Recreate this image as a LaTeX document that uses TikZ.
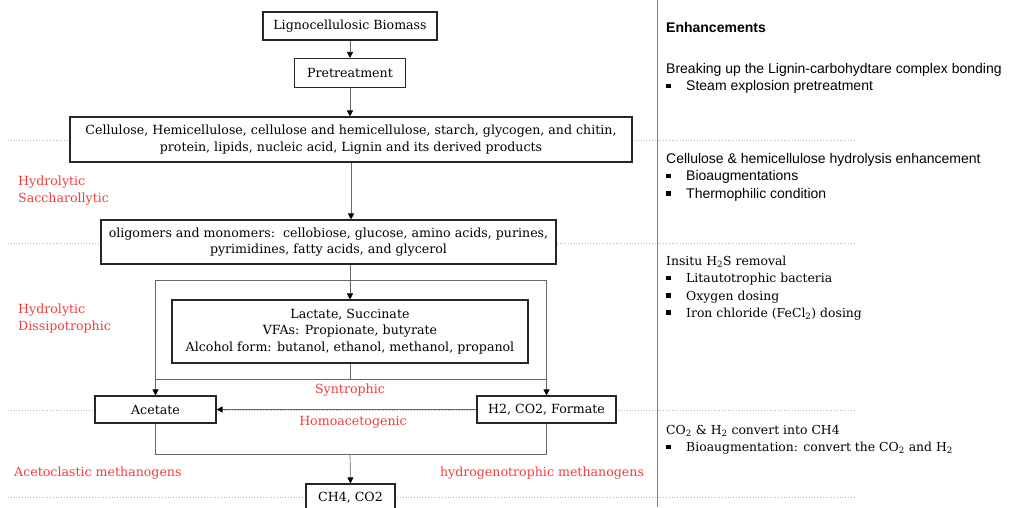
\documentclass[tikz,border=0pt]{standalone}
\usepackage{fontspec}
\setmainfont{DejaVu Serif}
\newfontfamily\enhsans{Liberation Sans}
\usetikzlibrary{arrows.meta,calc}
\definecolor{stageRed}{HTML}{F23C3C}
\definecolor{sepGray}{HTML}{B4B4B4}
\newcommand{\sqbullet}{\makebox[20pt][l]{\rule[2.5pt]{4.5pt}{4.5pt}}}

\begin{document}
\begin{tikzpicture}[x=1pt, y=-1pt, font=\fontsize{12.6}{16.5}\selectfont, >={Triangle[length=6pt,width=6pt,color=black]},
    stage/.style={draw=black!85, line width=1.1pt, fill=white, align=center, inner sep=2pt},
    wire/.style={draw=black!60, line width=0.7pt},
    redlbl/.style={text=stageRed, align=left, inner sep=0pt},
    enhsans/.style={anchor=north west, align=left, inner sep=0pt, font=\enhsans\fontsize{14}{17.5}\selectfont},
    enhserif/.style={anchor=north west, align=left, inner sep=0pt, font=\fontsize{12.4}{17.2}\selectfont}]
  \useasboundingbox (0,0) rectangle (1012,507);
  \foreach \y in {140,243,410,497} { \draw[sepGray, dotted, line width=0.8pt] (8,\y) -- (855,\y); }
  \draw[gray, line width=0.9pt] (657,0) -- (657,507);

  \node[stage, minimum width=174, minimum height=28] (bio) at (350,26) {Lignocellulosic Biomass};
  \node[stage, minimum width=111, minimum height=29] (pre) at (350,73) {Pretreatment};
  \node[stage, minimum width=562, minimum height=45] (cell) at (351,139.5) {Cellulose, Hemicellulose, cellulose and hemicellulose, starch, glycogen, and chitin,\\ protein, lipids, nucleic acid, Lignin and its derived products};
  \node[stage, minimum width=455, minimum height=44] (olig) at (328.5,242) {oligomers and monomers:\ \ cellobiose, glucose, amino acids, purines,\\ pyrimidines, fatty acids, and glycerol};
  \node[stage, minimum width=356, minimum height=63] (lact) at (350,331.5) {Lactate, Succinate\\ VFAs: Propionate, butyrate\\ Alcohol form: butanol, ethanol, methanol, propanol};
  \node[stage, minimum width=121, minimum height=27] (acet) at (155.5,409.5) {Acetate};
  \node[stage, minimum width=139, minimum height=27] (h2) at (546.5,409.5) {H2, CO2, Formate};
  \node[stage, minimum width=89, minimum height=28] (ch4) at (350.5,498) {CH4, CO2};
  \coordinate (frametop) at (350,280);
  \coordinate (junc) at (350,379);
  \coordinate (merge) at (350,454);

  \draw[wire, ->] (bio.south) -- (pre.north);
  \draw[wire, ->] (pre.south) -- (pre.south |- cell.north);
  \draw[wire, ->] (cell.south) -- (cell.south |- olig.north);
  \draw[wire, ->] (olig.south -| lact.north) -- (lact.north);
  \draw[wire, <->] (acet.north) -- (acet.north |- frametop) -- (h2.north |- frametop) -- (h2.north);
  \draw[wire] (lact.south) -- (junc);
  \draw[wire] (acet.north |- junc) -- (h2.north |- junc);
  \draw[wire] (acet.south) -- (acet.south |- merge) -- (h2.south |- merge) -- (h2.south);
  \draw[wire, ->] (merge) -- (ch4.north);
  \draw[wire, ->] (h2.west) -- (acet.east);

  \node[redlbl, anchor=north west] (hsac) at (18,176) {Hydrolytic\\Saccharollytic};
  \node[redlbl, anchor=north west] (hdis) at (18,304) {Hydrolytic\\Dissipotrophic};
  \node[redlbl] (syn) at (350,390) {Syntrophic};
  \node[redlbl] (homo) at (353,422) {Homoacetogenic};
  \node[redlbl, anchor=west] (aceto) at (14,473) {Acetoclastic methanogens};
  \node[redlbl] (hydro) at (542,473) {hydrogenotrophic methanogens};

  \node[enhsans] (enh) at (666,22) {\bfseries Enhancements};
  \node[enhsans] (enha) at (666,63) {Breaking up the Lignin-carbohydtare complex bonding\\ \sqbullet Steam explosion pretreatment};
  \node[enhsans] (enhb) at (666,153) {Cellulose \& hemicellulose hydrolysis enhancement\\ \sqbullet Bioaugmentations\\ \sqbullet Thermophilic condition};
  \node[enhserif] (enhc) at (666,256) {Insitu H\textsubscript{2}S removal\\ \sqbullet Litautotrophic bacteria\\ \sqbullet Oxygen dosing\\ \sqbullet Iron chloride (FeCl\textsubscript{2}) dosing};
  \node[enhserif] (enhd) at (666,425) {CO\textsubscript{2} \& H\textsubscript{2} convert into CH4\\ \sqbullet Bioaugmentation: convert the CO\textsubscript{2} and H\textsubscript{2}};
\end{tikzpicture}
\end{document}
